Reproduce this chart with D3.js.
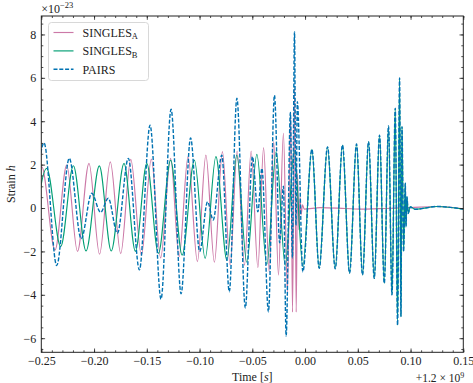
<!DOCTYPE html>
<html>
<head>
<meta charset="utf-8">
<script src="https://cdn.jsdelivr.net/npm/d3@7"></script>
<style>
  body { margin: 0; background: #fff; }
  svg { display: block; }
  text { font-family: "Liberation Serif", "DejaVu Serif", serif; fill: #222; }
</style>
</head>
<body>
<svg id="chart" width="473" height="383"></svg>
<script>
// ---- Data (strain in units of 1e-23, time in s relative to 1.2e9) ----
const seriesNames = ["SINGLES_A", "SINGLES_B", "PAIRS"];

const timeA = [-0.2617,-0.2496,-0.2370,-0.2259,-0.2157,-0.2048,-0.1948,-0.1846,-0.1747,-0.1652,
  -0.1551,-0.1457,-0.1369,-0.1274,-0.1194,-0.1109,-0.1020,-0.0940,-0.0859,-0.0783,
  -0.0710,-0.0644,-0.0574,-0.0511,-0.0447,-0.0393,-0.0340,-0.0297,-0.0252,-0.0205,
  -0.0167,-0.0136,-0.0119,-0.0099,-0.0084,-0.0071,-0.0059,-0.0048,-0.0037,-0.0024,
  -0.0008,0.0144,0.0381,0.0542,0.0760,0.0997,0.1253,0.1500];
const strainA = [-1.9,1.9,-1.94,1.98,-2.0,2.06,-2.13,2.13,-2.1,2.24,
  -2.17,2.25,-2.3,2.29,-2.24,2.37,-2.47,2.44,-2.5,2.6,
  -2.63,2.63,-2.63,2.63,-2.75,2.78,-2.94,3.06,-3.09,3.44,
  -3.9,4.4,-4.8,5.5,-4.8,1.6,-1.0,0.5,-0.3,0.15,
  -0.05,0.02,-0.02,-0.05,-0.02,0.02,0.07,-0.04];

const timeB = [-0.2579,-0.2449,-0.2316,-0.2196,-0.2076,-0.1950,-0.1837,-0.1716,-0.1608,-0.1500,
  -0.1390,-0.1274,-0.1165,-0.1049,-0.0947,-0.0845,-0.0741,-0.0647,-0.0552,-0.0457,
  -0.0362,-0.0274,-0.0188,-0.0103,-0.0021,0.0065,0.0134,0.0213,0.0286,0.0355,
  0.0422,0.0488,0.0545,0.0602,0.0656,0.0706,0.0751,0.0791,0.0824,0.0855,
  0.0877,0.0896,0.0909,0.0919,0.0934,0.0950,0.0957,0.0966,0.0978,0.0997,
  0.1045,0.1253,0.1500];
const strainB = [-1.75,1.83,-1.78,1.95,-1.98,1.94,-1.98,2.06,-2.0,2.06,
  -2.09,2.21,-2.17,2.21,-2.32,2.37,-2.4,2.44,-2.5,2.47,
  -2.6,2.6,-2.65,2.65,-2.7,2.7,-2.78,2.82,-2.8,2.9,
  -3.0,2.95,-3.09,3.06,-3.24,3.36,-3.47,3.78,-4.0,4.6,
  -5.4,6.0,-5.0,3.75,-2.0,1.14,-0.86,0.52,-0.25,0.05,
  -0.06,0.07,-0.05];

const timePairs = [-0.2588,-0.2474,-0.2354,-0.2235,-0.2122,-0.2022,-0.1938,-0.1865,-0.1779,-0.1675,
  -0.1570,-0.1469,-0.1365,-0.1270,-0.1175,-0.1085,-0.0999,-0.0924,-0.0871,-0.0789,
  -0.0718,-0.0646,-0.0566,-0.0499,-0.0447,-0.0409,-0.0347,-0.0290,-0.0241,-0.0205,
  -0.0179,-0.0139,-0.0120,-0.0100,-0.0086,-0.0073,-0.0021,0.0065,0.0134,0.0213,
  0.0286,0.0355,0.0422,0.0488,0.0545,0.0602,0.0656,0.0706,0.0751,0.0791,
  0.0824,0.0855,0.0877,0.0896,0.0909,0.0919,0.0934,0.0950,0.0957,0.0966,
  0.0978,0.0997,0.1045,0.1253,0.1500];
const strainPairs = [-2.0,3.0,-2.65,2.29,-1.42,0.68,-0.2,0.45,-1.17,2.29,
  -2.85,3.82,-4.2,4.55,-3.95,3.23,-2.0,0.29,-0.55,2.44,
  -3.86,5.06,-4.6,2.37,-0.17,1.83,-4.78,5.2,-1.6,1.0,
  -5.9,4.4,-2.3,8.12,-0.8,4.9,-2.94,2.7,-2.78,2.82,
  -2.8,2.9,-3.0,2.95,-3.09,3.06,-3.24,3.36,-3.47,3.78,
  -4.0,4.6,-5.4,6.0,-5.0,3.75,-2.0,1.14,-0.86,0.52,
  -0.25,0.05,-0.06,0.07,-0.05];

const xTicks = [-0.25,-0.20,-0.15,-0.10,-0.05,0.00,0.05,0.10,0.15];
const yTicks = [-6,-4,-2,0,2,4,6,8];
const colors = ["#CC79A7", "#009E73", "#0072B2"];

// ---- Layout ----
const W = 473, H = 383;
const margin = {left: 41.3, right: 9.7, top: 16, bottom: 30.7};
const iw = W - margin.left - margin.right;
const ih = H - margin.top - margin.bottom;

const svg = d3.select("#chart");
const x = d3.scaleLinear().domain([-0.25, 0.15]).range([0, iw]);
const y = d3.scaleLinear().domain([-6.65, 8.85]).range([ih, 0]);

const g = svg.append("g").attr("transform", `translate(${margin.left},${margin.top})`);

g.append("clipPath").attr("id", "clip")
  .append("rect").attr("width", iw).attr("height", ih);

const fmtX = v => (v < 0 ? "\u2212" : "") + Math.abs(v).toFixed(2);
const fmtY = v => (v < 0 ? "\u2212" : "") + Math.abs(v);

const line = d3.line().x(d => x(d[0])).y(d => y(d[1])).curve(d3.curveMonotoneX);
const zipT = (ts, vs) => ts.map((t, i) => [t, vs[i]]);

const plot = g.append("g").attr("clip-path", "url(#clip)");
plot.append("path").datum(zipT(timeA, strainA))
  .attr("d", line).attr("fill", "none").attr("stroke", colors[0]).attr("stroke-width", 1.15);
plot.append("path").datum(zipT(timeB, strainB))
  .attr("d", line).attr("fill", "none").attr("stroke", colors[1]).attr("stroke-width", 1.15);
plot.append("path").datum(zipT(timePairs, strainPairs))
  .attr("d", line).attr("fill", "none").attr("stroke", colors[2]).attr("stroke-width", 1.4)
  .attr("stroke-dasharray", "4,1.8");

// ---- Axes: ticks inward on all sides ----
const xMinor = d3.range(-0.25, 0.1501, 0.01);
const yMinor = d3.range(-6.5, 8.51, 0.5);

function axisGroup(axisFn, transform) {
  const a = g.append("g").attr("transform", transform).call(axisFn);
  a.select(".domain").remove();
  a.selectAll("line").attr("stroke", "#222").attr("stroke-width", 0.8);
  return a;
}
// bottom
axisGroup(d3.axisBottom(x).tickValues(xMinor).tickSize(-2).tickFormat(""), `translate(0,${ih})`);
const xb = axisGroup(d3.axisBottom(x).tickValues(xTicks).tickSize(-3.8).tickFormat(fmtX), `translate(0,${ih})`);
xb.selectAll("text").attr("font-size", 12).attr("dy", "0.71em").attr("y", 4);
// top
axisGroup(d3.axisTop(x).tickValues(xMinor).tickSize(-2).tickFormat(""), `translate(0,0)`);
axisGroup(d3.axisTop(x).tickValues(xTicks).tickSize(-3.8).tickFormat(""), `translate(0,0)`);
// left
axisGroup(d3.axisLeft(y).tickValues(yMinor).tickSize(-2).tickFormat(""), `translate(0,0)`);
const yl = axisGroup(d3.axisLeft(y).tickValues(yTicks).tickSize(-3.8).tickFormat(fmtY), `translate(0,0)`);
yl.selectAll("text").attr("font-size", 12).attr("x", -5);
// right
axisGroup(d3.axisRight(y).tickValues(yMinor).tickSize(-2).tickFormat(""), `translate(${iw},0)`);
axisGroup(d3.axisRight(y).tickValues(yTicks).tickSize(-3.8).tickFormat(""), `translate(${iw},0)`);

// frame
g.append("rect").attr("width", iw).attr("height", ih)
  .attr("fill", "none").attr("stroke", "#222").attr("stroke-width", 1);

// ---- Labels ----
const xl = svg.append("text").attr("x", margin.left + iw / 2).attr("y", 381)
  .attr("text-anchor", "middle").attr("font-size", 12);
xl.append("tspan").text("Time [");
xl.append("tspan").attr("font-style", "italic").text("s");
xl.append("tspan").text("]");

const ylab = svg.append("text")
  .attr("transform", `translate(15,${margin.top + ih / 2}) rotate(-90)`)
  .attr("text-anchor", "middle").attr("font-size", 12);
ylab.append("tspan").text("Strain ");
ylab.append("tspan").attr("font-style", "italic").text("h");

const off = svg.append("text").attr("x", margin.left).attr("y", 13).attr("font-size", 12);
off.append("tspan").text("\u00d710");
off.append("tspan").attr("font-size", 8.5).attr("dy", -5).text("\u221223");

const off2 = svg.append("text").attr("x", W - margin.right + 1).attr("y", 382)
  .attr("text-anchor", "end").attr("font-size", 11.5);
off2.append("tspan").text("+1.2 \u00d7 10");
off2.append("tspan").attr("font-size", 8).attr("dy", -4).text("9");

// ---- Legend ----
const leg = svg.append("g").attr("transform", "translate(48.5,22.5)");
leg.append("rect").attr("width", 100).attr("height", 58).attr("rx", 3)
  .attr("fill", "#fff").attr("fill-opacity", 0.85).attr("stroke", "#d4d4d4").attr("stroke-width", 0.9);
const subs = ["A", "B", null];
seriesNames.forEach((name, i) => {
  const row = leg.append("g").attr("transform", `translate(0,${10 + i * 18.4})`);
  const ln = row.append("line").attr("x1", 5).attr("x2", 25).attr("y1", 0).attr("y2", 0)
    .attr("stroke", colors[i]).attr("stroke-width", i === 2 ? 1.4 : 1.15);
  if (i === 2) ln.attr("stroke-dasharray", "4,1.8");
  const t = row.append("text").attr("x", 34).attr("y", 4.2).attr("font-size", 12);
  const base = name.split("_")[0];
  t.append("tspan").text(base);
  if (subs[i]) t.append("tspan").attr("font-size", 8.5).attr("dy", 2.5).text(subs[i]);
});
</script>
</body>
</html>
